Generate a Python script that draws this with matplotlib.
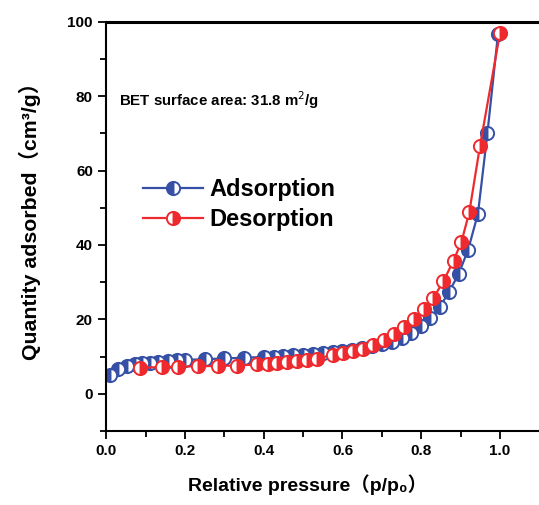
import matplotlib
matplotlib.use("Agg")
import matplotlib.pyplot as plt
from matplotlib.ticker import MultipleLocator

# adsorption branch
ads_p = [0.01, 0.03, 0.053, 0.074, 0.091, 0.112, 0.132, 0.157, 0.18, 0.2,
         0.25, 0.3, 0.35, 0.4, 0.425, 0.45, 0.475, 0.5, 0.525, 0.55,
         0.575, 0.6, 0.625, 0.65, 0.675, 0.7, 0.725, 0.75, 0.775, 0.8,
         0.822, 0.847, 0.87, 0.895, 0.919, 0.944, 0.968, 0.995]
ads_q = [5.0, 6.6, 7.4, 7.9, 8.2, 8.4, 8.6, 8.8, 9.0, 9.1,
         9.3, 9.5, 9.7, 9.9, 10.0, 10.1, 10.3, 10.5, 10.7, 10.9,
         11.2, 11.5, 11.9, 12.3, 12.8, 13.4, 14.0, 15.0, 16.3, 18.2,
         20.5, 23.3, 27.3, 32.2, 38.7, 48.4, 70.0, 96.8]

# desorption branch
des_p = [1.0, 0.949, 0.922, 0.902, 0.882, 0.856, 0.831, 0.806, 0.781, 0.755,
         0.73, 0.705, 0.678, 0.652, 0.627, 0.601, 0.576, 0.535, 0.51, 0.485,
         0.46, 0.434, 0.41, 0.383, 0.332, 0.284, 0.233, 0.183, 0.142, 0.086]
des_q = [97.0, 66.5, 48.8, 40.8, 35.8, 30.2, 25.8, 22.8, 20.2, 17.9,
         16.0, 14.5, 13.0, 12.1, 11.4, 11.0, 10.5, 9.4, 9.1, 8.8,
         8.5, 8.3, 8.1, 7.9, 7.6, 7.5, 7.4, 7.3, 7.2, 7.0]

blue = '#3550a5'
red = '#ee2a2e'
fam = ['Liberation Sans', 'DejaVu Sans', 'Noto Sans CJK SC']

fig = plt.figure(figsize=(5.39, 5.05), dpi=100)
ax = fig.add_axes([0.197, 0.1465, 0.803, 0.8105])

ax.plot(ads_p, ads_q, '-o', color=blue, lw=1.6, ms=9.5, mew=1.4,
        fillstyle='left', markerfacecoloralt='white', label='Adsorption')
ax.plot(des_p, des_q, '-o', color=red, lw=1.6, ms=9.5, mew=1.4,
        fillstyle='right', markerfacecoloralt='white', label='Desorption')

ax.set_xlim(0, 1.099)
ax.set_ylim(-10, 100)
ax.xaxis.set_major_locator(MultipleLocator(0.2))
ax.xaxis.set_minor_locator(MultipleLocator(0.1))
ax.set_yticks([0, 20, 40, 60, 80, 100])
ax.yaxis.set_minor_locator(MultipleLocator(10))
ax.tick_params(which='both', direction='out', width=1.3, top=False, right=False)
ax.tick_params(which='major', length=6, labelsize=11)
ax.tick_params(which='minor', length=4)
for lab in ax.get_xticklabels() + ax.get_yticklabels():
    lab.set_fontweight('bold')
    lab.set_family(fam)

ax.spines['right'].set_visible(False)
ax.spines['top'].set_linewidth(2.2)
ax.spines['left'].set_linewidth(1.5)
ax.spines['bottom'].set_linewidth(1.5)

# full-width brackets come from the CJK font, so no mathtext here
ax.set_xlabel('Relative pressure（p/p₀）', fontsize=14, fontweight='bold',
              family=fam)
ax.set_ylabel('Quantity adsorbed（cm³/g）', fontsize=15.3, fontweight='bold',
              family=fam)
ax.xaxis.set_label_coords(0.465, -0.105)
ax.yaxis.set_label_coords(-0.15, 0.525)

ax.text(0.03, 0.795, 'BET surface area: 31.8 m$^2$/g', transform=ax.transAxes,
        fontsize=10.8, fontweight='bold', family=fam)

ax.legend(loc='upper left', bbox_to_anchor=(0.035, 0.67), frameon=False,
          prop={'family': fam, 'weight': 'bold', 'size': 17},
          handlelength=2.55, handletextpad=0.3, labelspacing=0.3)

fig.savefig('out.png', dpi=100)
